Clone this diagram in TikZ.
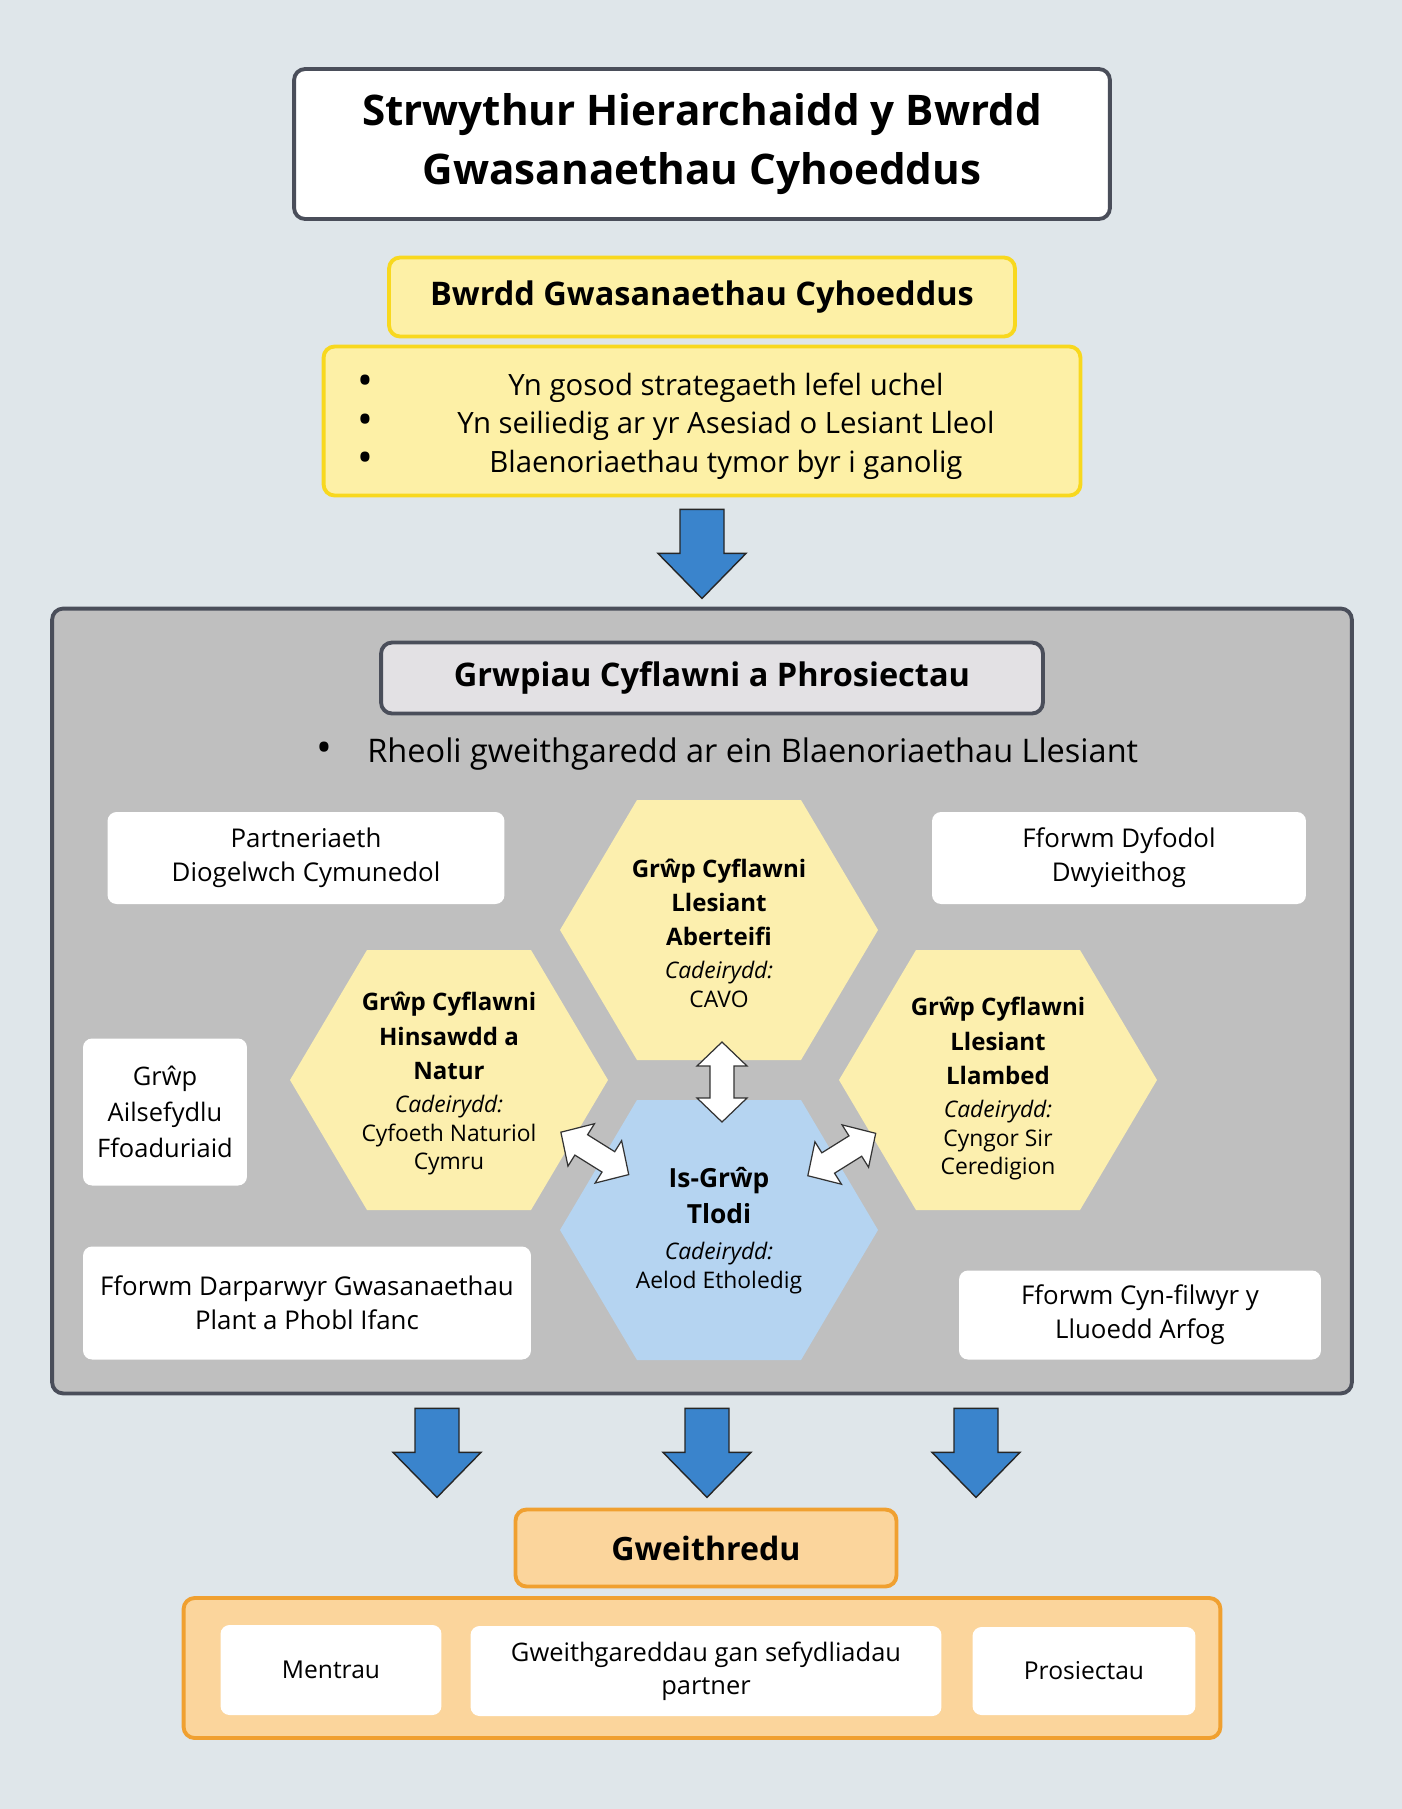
\documentclass[tikz,border=0pt]{standalone}
\usepackage{fontspec}
\setmainfont{Open Sans}
\usepackage{tikz}
\usetikzlibrary{calc}

\definecolor{bgcol}{HTML}{DFE6EA}
\definecolor{darkline}{HTML}{4A4E5A}
\definecolor{yelfill}{HTML}{FDF0A6}
\definecolor{yelline}{HTML}{F8D81E}
\definecolor{hexyel}{HTML}{FCEFAE}
\definecolor{hexblue}{HTML}{B5D4F1}
\definecolor{greyfill}{HTML}{BFBFBF}
\definecolor{lightgrey}{HTML}{E3E1E4}
\definecolor{arrblue}{HTML}{3A84CC}
\definecolor{orfill}{HTML}{FBD59C}
\definecolor{orline}{HTML}{F0A030}

\tikzset{
  downarrow/.pic={\draw[fill=arrblue, draw=black!85, line width=0.8pt, line join=miter]
    (-22,0) -- (22,0) -- (22,44) -- (44,44) -- (0,89) -- (-44,44) -- (-22,44) -- cycle;},
  dblarrow/.pic={\draw[fill=white, draw=black!80, line width=0.7pt, line join=miter]
    (-40,0) -- (-16,-25) -- (-16,-12) -- (16,-12) -- (16,-25) -- (40,0)
    -- (16,25) -- (16,12) -- (-16,12) -- (-16,25) -- cycle;},
  hexa/.pic={\path[pic actions] (-159,0) -- (-82,-130) -- (82,-130) -- (159,0)
    -- (82,130) -- (-82,130) -- cycle;}
}

\begin{document}
\begin{tikzpicture}[x=0.02cm, y=-0.02cm]
    \tikzstyle{box} = [rectangle, rounded corners=0.22cm, line width=2.2pt, align=center, inner sep=0pt];
    \tikzstyle{whitebox} = [rectangle, rounded corners=0.18cm, fill=white, align=center, inner sep=0pt, font=\fontsize{14.7}{19.5}\selectfont];
    \tikzstyle{hextext} = [align=center, inner sep=0pt, font=\fontsize{13}{16.5}\selectfont];
    \fill[bgcol] (0,0) rectangle (1402,1809);
    \useasboundingbox (0,0) rectangle (1402,1809);

    % top part
    \node [box, draw=darkline, fill=white, minimum width=16.32cm, minimum height=3cm,
      font=\fontsize{24}{33.5}\selectfont\bfseries] (title) at (702,144)
      {Strwythur Hierarchaidd y Bwrdd\\Gwasanaethau Cyhoeddus};
    \node [box, draw=yelline, fill=yelfill, minimum width=12.52cm, minimum height=1.58cm,
      font=\fontsize{18.5}{22}\selectfont\bfseries] (bwrdd) at (702,297)
      {Bwrdd Gwasanaethau Cyhoeddus};
    \node [box, draw=yelline, fill=yelfill, minimum width=15.14cm, minimum height=2.98cm] (bullbox) at (702,421) {};
    \node [align=center, font=\fontsize{16.7}{22}\selectfont] (bulltext) at (726,426)
      {Yn gosod strategaeth lefel uchel\\Yn seiliedig ar yr Asesiad o Lesiant Lleol\\Blaenoriaethau tymor byr i ganolig};
    \node [align=center, font=\fontsize{24}{22}\selectfont] (bulldots) at (365,424) {•\\•\\•};
    \pic at ($(bullbox.south)+(0,12)$) {downarrow};

    % delivery groups
    \node [box, draw=darkline, fill=greyfill, minimum width=26cm, minimum height=15.7cm] (grey) at (702,1001) {};
    \node [box, draw=darkline, fill=lightgrey, minimum width=13.24cm, minimum height=1.42cm,
      font=\fontsize{18.5}{20}\selectfont\bfseries] (grwp) at (712,678) {Grwpiau Cyflawni a Phrosiectau};
    \node [font=\fontsize{24}{20}\selectfont] (rdot) at (324,752) {•};
    \node [anchor=west, inner sep=0pt, font=\fontsize{18.5}{20}\selectfont] (rheoli) at (367,754)
      {Rheoli gweithgaredd ar ein Blaenoriaethau Llesiant};

    \node [whitebox, minimum width=7.94cm, minimum height=1.84cm] (partner) at (306,858) {Partneriaeth\\Diogelwch Cymunedol};
    \node [whitebox, minimum width=7.48cm, minimum height=1.84cm] (dyfodol) at (1119,858) {Fforwm Dyfodol\\Dwyieithog};
    \node [whitebox, minimum width=3.28cm, minimum height=2.94cm, font=\fontsize{14.5}{20.5}\selectfont] (ailsef) at (165,1112) {Grŵp\\Ailsefydlu\\Ffoaduriaid};
    \node [whitebox, minimum width=8.96cm, minimum height=2.26cm] (darpar) at (307,1303) {Fforwm Darparwyr Gwasanaethau\\Plant a Phobl Ifanc};
    \node [whitebox, minimum width=7.24cm, minimum height=1.78cm] (cynfil) at (1140,1315) {Fforwm Cyn-filwyr y\\Lluoedd Arfog};

    % hexagons
    \pic [fill=hexyel] at (719,930) {hexa};
    \pic [fill=hexyel] at (449,1080) {hexa};
    \pic [fill=hexyel] at (998,1080) {hexa};
    \pic [fill=hexblue] at (719,1230) {hexa};
    \node [hextext] (hexT) at (719,933)
      {{\fontsize{13.7}{16.5}\selectfont\bfseries Grŵp Cyflawni}\\[3pt]{\fontsize{13.7}{16.5}\selectfont\bfseries Llesiant}\\[3pt]
       {\fontsize{13.7}{16.5}\selectfont\bfseries Aberteifi}\\[2pt]\textit{Cadeirydd:}\\CAVO};
    \node [hextext] (hexL) at (449,1084)
      {{\fontsize{13.7}{16.5}\selectfont\bfseries Grŵp Cyflawni}\\[3pt]{\fontsize{13.7}{16.5}\selectfont\bfseries Hinsawdd a}\\[3pt]
       {\fontsize{13.7}{16.5}\selectfont\bfseries Natur}\\[2pt]\textit{Cadeirydd:}\\Cyfoeth Naturiol\\Cymru};
    \node [hextext] (hexR) at (998,1089)
      {{\fontsize{13.7}{16.5}\selectfont\bfseries Grŵp Cyflawni}\\[3pt]{\fontsize{13.7}{16.5}\selectfont\bfseries Llesiant}\\[3pt]
       {\fontsize{13.7}{16.5}\selectfont\bfseries Llambed}\\[2pt]\textit{Cadeirydd:}\\Cyngor Sir\\Ceredigion};
    \node [hextext] (hexB) at (719,1231)
      {{\fontsize{15}{16.5}\selectfont\bfseries Is-Grŵp}\\[4pt]{\fontsize{15}{16.5}\selectfont\bfseries Tlodi}\\[4pt]
       \textit{Cadeirydd:}\\Aelod Etholedig};
    \pic [rotate=90] at ($(hexT)!0.5!(hexB)+(3,0)$) {dblarrow};
    \pic [rotate=-32] at ($(hexL)!0.54!(hexB)+(0,-10)$) {dblarrow};
    \pic [rotate=32] at ($(hexR)!0.56!(hexB)+(0,-14)$) {dblarrow};

    % arrows down
    \pic at ($(grey.south)+(-265,13)$) {downarrow};
    \pic at ($(grey.south)+(5,13)$) {downarrow};
    \pic at ($(grey.south)+(274,13)$) {downarrow};

    % bottom part
    \node [box, draw=orline, fill=orfill, minimum width=7.62cm, minimum height=1.54cm,
      font=\fontsize{18.3}{22}\selectfont\bfseries] (gweith) at (706,1548) {Gweithredu};
    \node [box, draw=orline, fill=orfill, minimum width=20.74cm, minimum height=2.8cm] (orbox) at (702,1668) {};
    \node [whitebox, minimum width=4.42cm, minimum height=1.8cm, font=\fontsize{14}{19}\selectfont] (mentrau) at (331,1670) {Mentrau};
    \node [whitebox, minimum width=9.42cm, minimum height=1.8cm, font=\fontsize{14.5}{19}\selectfont] (gweithgar) at (706,1671) {Gweithgareddau gan sefydliadau\\partner};
    \node [whitebox, minimum width=4.46cm, minimum height=1.76cm, font=\fontsize{14}{19}\selectfont] (prosiect) at (1084,1671) {Prosiectau};
\end{tikzpicture}
\end{document}
